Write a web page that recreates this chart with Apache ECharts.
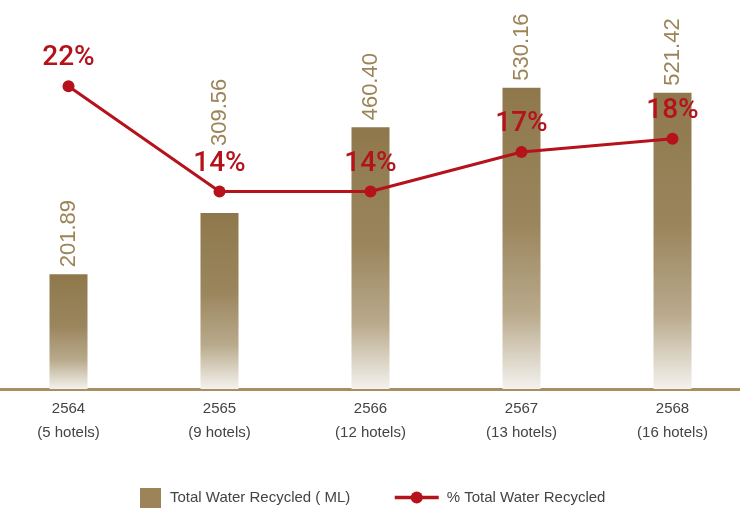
<!DOCTYPE html>
<html>
<head>
<meta charset="utf-8">
<script src="https://cdn.jsdelivr.net/npm/echarts@6/dist/echarts.min.js"></script>
<style>
  html, body { margin: 0; padding: 0; background: #ffffff; overflow: hidden; }
  /* plot area runs a few pixels past both window edges */
  #chart { width: 755px; height: 514px; margin-left: -7px; }
</style>
</head>
<body>
<div id="chart"></div>
<script>
// Fiscal years (Thai Buddhist calendar) and number of participating hotels
const years = ['2564', '2565', '2566', '2567', '2568'];
const hotels = ['(5 hotels)', '(9 hotels)', '(12 hotels)', '(13 hotels)', '(16 hotels)'];

// Total water recycled, megalitres
const recycledML = [201.89, 309.56, 460.40, 530.16, 521.42];

// Share of total water that was recycled, percent
const recycledPct = [22, 14, 14, 17, 18];

const barName = 'Total Water Recycled ( ML)';
const lineName = '% Total Water Recycled';

const BROWN = '#9c8458';
const RED = '#b5121b';
const FONT = '"Liberation Sans", Arial, Helvetica, sans-serif';

const categories = years.map((y, i) => y + '\n' + hotels[i]);

// The second bar's value label sits higher so it clears the percentage label
const barLabelDistance = [7, 67, 7, 7, 7];

const barGradient = new echarts.graphic.LinearGradient(0, 0, 0, 1, [
  { offset: 0, color: '#8e784b' },
  { offset: 0.45, color: '#9b855d' },
  { offset: 0.75, color: '#b9aa8c' },
  { offset: 1, color: '#f4f2ee' }
]);

const chart = echarts.init(document.getElementById('chart'), null, { renderer: 'canvas' });

chart.setOption({
  animation: false,
  backgroundColor: '#ffffff',
  textStyle: { fontFamily: FONT },
  grid: { left: 0, right: 0, top: 48, bottom: 125, containLabel: false },
  legend: [
    {
      data: [{ name: barName, itemStyle: { color: BROWN } }],
      left: 147,
      top: 488,
      padding: 0,
      itemWidth: 21,
      itemHeight: 20,
      icon: 'rect',
      textStyle: { color: '#444444', fontSize: 15, fontFamily: FONT, padding: [2, 0, 0, 4] },
      selectedMode: false
    },
    {
      data: [lineName],
      left: 400,
      top: 490,
      padding: 0,
      itemWidth: 44,
      itemHeight: 15,
      lineStyle: { width: 3.5 },
      textStyle: { color: '#444444', fontSize: 15, fontFamily: FONT, padding: [2, 0, 0, 3] },
      selectedMode: false
    }
  ],
  xAxis: {
    type: 'category',
    data: categories,
    axisLine: { show: true, lineStyle: { color: '#a88e60', width: 3 } },
    axisTick: { show: false },
    axisLabel: {
      color: '#444444',
      fontSize: 15,
      fontFamily: FONT,
      lineHeight: 24,
      margin: 8
    }
  },
  yAxis: [
    { type: 'value', min: 0, max: 600, show: false, splitLine: { show: false } },
    { type: 'value', min: -1, max: 24.9, show: false, splitLine: { show: false } }
  ],
  series: [
    {
      name: barName,
      type: 'bar',
      yAxisIndex: 0,
      barWidth: 38,
      itemStyle: { color: barGradient },
      data: recycledML.map((v, i) => ({
        value: v,
        label: { distance: barLabelDistance[i] }
      })),
      label: {
        show: true,
        position: 'top',
        rotate: 90,
        align: 'left',
        verticalAlign: 'middle',
        color: BROWN,
        fontSize: 22,
        fontFamily: FONT,
        formatter: p => p.value.toFixed(2)
      },
      z: 2
    },
    {
      name: lineName,
      type: 'line',
      yAxisIndex: 1,
      data: recycledPct,
      symbol: 'circle',
      symbolSize: 12,
      lineStyle: { color: RED, width: 3 },
      itemStyle: { color: RED },
      label: {
        show: true,
        position: 'top',
        distance: 8,
        color: RED,
        fontSize: 28,
        fontWeight: 500,
        fontFamily: 'Roboto, "Liberation Sans", Arial, sans-serif',
        formatter: p => p.value + '%'
      },
      z: 3
    }
  ]
});
</script>
</body>
</html>
